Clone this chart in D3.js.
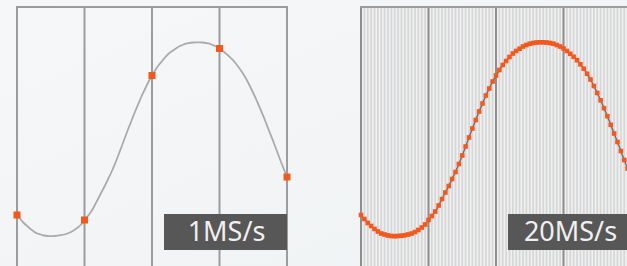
<!DOCTYPE html>
<html>
<head>
<meta charset="utf-8">
<script src="https://cdn.jsdelivr.net/npm/d3@7"></script>
<style>
  html, body { margin: 0; padding: 0; overflow: hidden; }
  body { width: 627px; height: 266px; }
</style>
</head>
<body>
<script>
// width and height
const w = 627;
const h = 266;

// signal (81 samples over 4 divisions)
const fastSamples = [
  -0.75, -0.79, -0.83, -0.86, -0.89, -0.915, -0.935, -0.945, -0.955, -0.96,
  -0.962, -0.96, -0.957, -0.952, -0.945, -0.935, -0.92, -0.9, -0.875, -0.845,
  -0.8, -0.76, -0.715, -0.655, -0.59, -0.525, -0.46, -0.39, -0.32, -0.24,
  -0.155, -0.065, 0.025, 0.115, 0.2, 0.285, 0.365, 0.445, 0.515, 0.585,
  0.645, 0.7, 0.75, 0.79, 0.83, 0.865, 0.89, 0.913, 0.935, 0.95,
  0.963, 0.97, 0.975, 0.977, 0.977, 0.975, 0.97, 0.963, 0.95, 0.935,
  0.915, 0.89, 0.862, 0.832, 0.798, 0.757, 0.713, 0.662, 0.605, 0.54,
  0.47, 0.397, 0.318, 0.238, 0.152, 0.065, -0.02, -0.11, -0.2, -0.285,
  -0.37
];

// 1MS/s samples
const slowIndex = [0, 20, 40, 60, 80];
const slowSamples = [-0.75, -0.8, 0.645, 0.915, -0.37];

const divisions = [0, 20, 40, 60, 80];
const labels = ["1MS/s", "20MS/s"];

const orange = "#f3581d";

const svg = d3.select("body").append("svg").attr("width", w).attr("height", h);

// page background
const defs = svg.append("defs");
const grad = defs.append("linearGradient").attr("id", "bg")
  .attr("x1", 0).attr("y1", 0).attr("x2", 1).attr("y2", 1);
grad.append("stop").attr("offset", "0%").attr("stop-color", "#f6f7f8");
grad.append("stop").attr("offset", "100%").attr("stop-color", "#eff2f4");
svg.append("rect").attr("width", w).attr("height", h).attr("fill", "url(#bg)");

const y = d3.scaleLinear().domain([-1, 1]).range([240, 40]);

function panel(x0, label, dense) {
  const x = d3.scaleLinear().domain([0, 80]).range([x0, x0 + 270]);
  const g = svg.append("g");

  if (dense) {
    g.append("rect")
      .attr("x", x(0)).attr("y", 7)
      .attr("width", x(80) - x(0)).attr("height", h)
      .attr("fill", "#d6d7d8");
    // sample stripes
    g.selectAll("line.stripe")
      .data(d3.range(0, 80))
      .enter()
      .append("line")
      .attr("x1", (d) => x(d + 0.5))
      .attr("x2", (d) => x(d + 0.5))
      .attr("y1", 7)
      .attr("y2", h)
      .attr("stroke", "#f0f0f0")
      .attr("stroke-width", 1.6);
  }

  // division lines
  g.selectAll("line.div")
    .data(divisions)
    .enter()
    .append("line")
    .attr("x1", (d) => x(d))
    .attr("x2", (d) => x(d))
    .attr("y1", 6)
    .attr("y2", h)
    .attr("stroke", dense ? "#8e8e8e" : "#9c9c9c")
    .attr("stroke-width", 2);

  g.append("line")
    .attr("x1", x(0) - 1).attr("x2", x(80) + 1)
    .attr("y1", 7).attr("y2", 7)
    .attr("stroke", "#9c9c9c")
    .attr("stroke-width", 2);

  const line = d3.line()
    .x((d, i) => x(i))
    .y((d) => y(d))
    .curve(d3.curveCatmullRom);

  g.append("path")
    .datum(fastSamples)
    .attr("d", line)
    .attr("fill", "none")
    .attr("stroke", dense ? "#707070" : "#ababab")
    .attr("stroke-width", dense ? 1.5 : 1.8);

  if (dense) {
    const s = 4.6;
    g.selectAll("rect.pt")
      .data(fastSamples)
      .enter()
      .append("rect")
      .attr("x", (d, i) => x(i) - s / 2)
      .attr("y", (d) => y(d) - s / 2)
      .attr("width", s)
      .attr("height", s)
      .attr("fill", orange);
  } else {
    const s = 7;
    g.selectAll("rect.pt")
      .data(slowSamples)
      .enter()
      .append("rect")
      .attr("x", (d, i) => x(slowIndex[i]) - s / 2)
      .attr("y", (d) => y(d) - s / 2)
      .attr("width", s)
      .attr("height", s)
      .attr("fill", orange);
  }

  // label box
  const bw = 123;
  g.append("rect")
    .attr("x", x(80) - bw).attr("y", 214)
    .attr("width", bw).attr("height", 36)
    .attr("fill", "#575757");
  g.append("text")
    .attr("x", x(80) - bw / 2 + 1)
    .attr("y", 241)
    .attr("text-anchor", "middle")
    .attr("font-family", "'Noto Sans', sans-serif")
    .attr("font-size", "27px")
    .attr("fill", "#f0f0f0")
    .text(label);
}

panel(17, labels[0], false);
panel(361, labels[1], true);
</script>
</body>
</html>
